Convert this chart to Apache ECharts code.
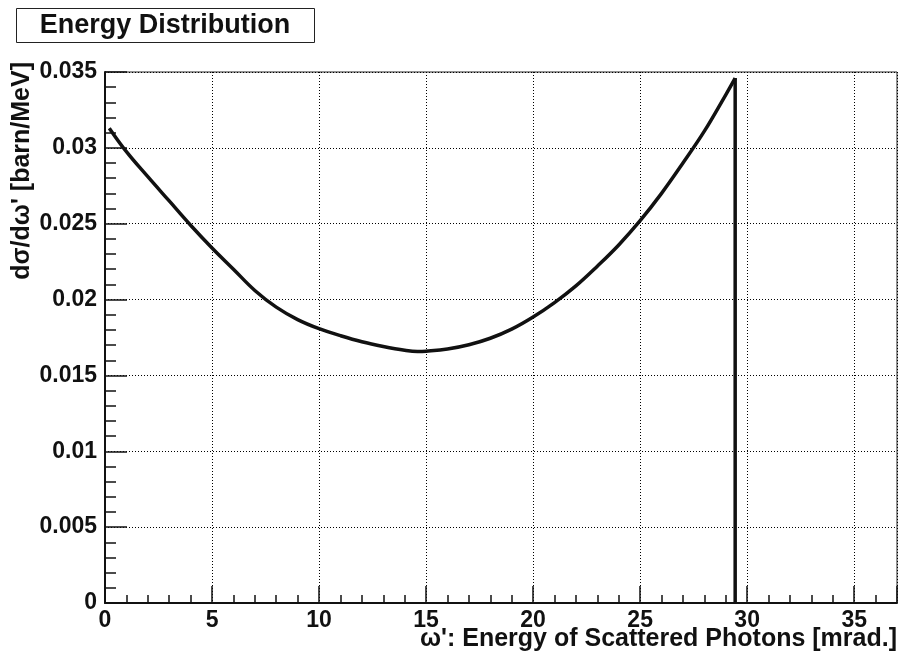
<!DOCTYPE html>
<html>
<head>
<meta charset="utf-8">
<title>Energy Distribution</title>
<script src="https://cdn.jsdelivr.net/npm/echarts@6/dist/echarts.min.js"></script>
<style>
  html, body { margin: 0; padding: 0; background: #fff; }
  #chart { width: 903px; height: 661px; }
</style>
</head>
<body>
<div id="chart"></div>
<script>
// Scattered photon energy (mrad.) and differential cross section (barn/MeV)
const omegaPrime = [0.2, 1, 2, 3, 4, 5, 6, 7, 8, 9, 10, 11, 12, 13, 14, 14.6, 15, 16, 17, 18, 19, 20, 21, 22, 23, 24, 25, 26, 27, 28, 29, 29.44];
const dSigma = [0.0313, 0.02975, 0.0281, 0.0265, 0.0249, 0.0234, 0.0220, 0.0206, 0.0195, 0.01868, 0.01808, 0.01762, 0.01722, 0.01691, 0.01666, 0.01658, 0.0166, 0.01674, 0.01702, 0.01745, 0.01805, 0.01885, 0.0198, 0.0209, 0.0222, 0.0236, 0.0252, 0.0270, 0.0290, 0.0311, 0.0335, 0.0346];
// Kinematic edge: the distribution falls to zero here
const edgeX = [29.44, 29.44];
const edgeY = [0.0346, 0];

const xRange = [0, 37];
const yRange = [0, 0.035];
const xMajorStep = 5;
const yMajorStep = 0.005;

const FONT = '"Liberation Sans", Arial, Helvetica, sans-serif';
const INK = '#111';

const chart = echarts.init(document.getElementById('chart'), null, { renderer: 'canvas' });

const curve = omegaPrime.map((x, i) => [x, dSigma[i]]);
const edge = edgeX.map((x, i) => [x, edgeY[i]]);

const gridSplit = { show: true, lineStyle: { color: '#000', width: 1, type: [1, 2] } };

chart.setOption({
  animation: false,
  backgroundColor: '#fff',
  grid: {
    left: 105, right: 6, top: 72, bottom: 58,
    show: true, borderColor: '#222', borderWidth: 1, backgroundColor: 'transparent'
  },
  xAxis: [
    {
      type: 'value', min: xRange[0], max: xRange[1], interval: xMajorStep,
      axisLine: { show: true, onZero: false, lineStyle: { color: INK, width: 2 } },
      axisTick: { show: true, inside: true, length: 17, lineStyle: { color: INK, width: 1.5 } },
      axisLabel: {
        margin: 6, color: INK, fontFamily: FONT, fontWeight: 'bold', fontSize: 23,
        formatter: v => (Math.abs(v / xMajorStep - Math.round(v / xMajorStep)) < 1e-9 ? String(v) : '')
      },
      splitLine: gridSplit
    },
    {
      // minor ticks every unit
      type: 'value', min: xRange[0], max: xRange[1], interval: 1, position: 'bottom',
      axisLine: { show: false },
      axisTick: { show: true, inside: true, length: 8, lineStyle: { color: INK, width: 1.5 } },
      axisLabel: { show: false },
      splitLine: { show: false }
    }
  ],
  yAxis: {
    type: 'value', min: yRange[0], max: yRange[1], interval: yMajorStep,
    axisLine: { show: true, onZero: false, lineStyle: { color: INK, width: 2 } },
    axisTick: { show: true, inside: true, length: 22, lineStyle: { color: INK, width: 1.5 } },
    minorTick: { show: true, splitNumber: 5, length: 11, lineStyle: { color: INK, width: 1.5 } },
    axisLabel: {
      margin: 8, color: INK, fontFamily: FONT, fontWeight: 'bold', fontSize: 23,
      formatter: v => (v === 0 ? '0' : String(+v.toFixed(3)))
    },
    splitLine: gridSplit
  },
  series: [
    {
      type: 'line', xAxisIndex: 0, data: curve, smooth: 0.4, showSymbol: false,
      lineStyle: { color: INK, width: 3.5 }, z: 5
    },
    {
      type: 'line', xAxisIndex: 0, data: edge, showSymbol: false,
      lineStyle: { color: INK, width: 3.5 }, z: 5
    }
  ],
  graphic: [
    {
      type: 'group', left: 16, top: 8,
      children: [
        { type: 'rect', shape: { x: 0.5, y: 0.5, width: 298, height: 34 },
          style: { fill: '#fff', stroke: '#222', lineWidth: 1 } },
        { type: 'text', x: 149, y: 18,
          style: { text: 'Energy Distribution', font: 'bold 27px ' + FONT, fill: INK,
                   textAlign: 'center', textVerticalAlign: 'middle' } }
      ]
    },
    {
      type: 'text', x: 897, y: 639,
      style: { text: "ω': Energy of Scattered Photons [mrad.]", font: 'bold 25px ' + FONT, fill: INK,
               textAlign: 'right', textVerticalAlign: 'middle' }
    },
    {
      type: 'text', x: 22, y: 62, rotation: Math.PI / 2,
      style: { text: "dσ/dω' [barn/MeV]", font: 'bold 25px ' + FONT, fill: INK,
               textAlign: 'right', textVerticalAlign: 'middle' }
    }
  ]
});
</script>
</body>
</html>
